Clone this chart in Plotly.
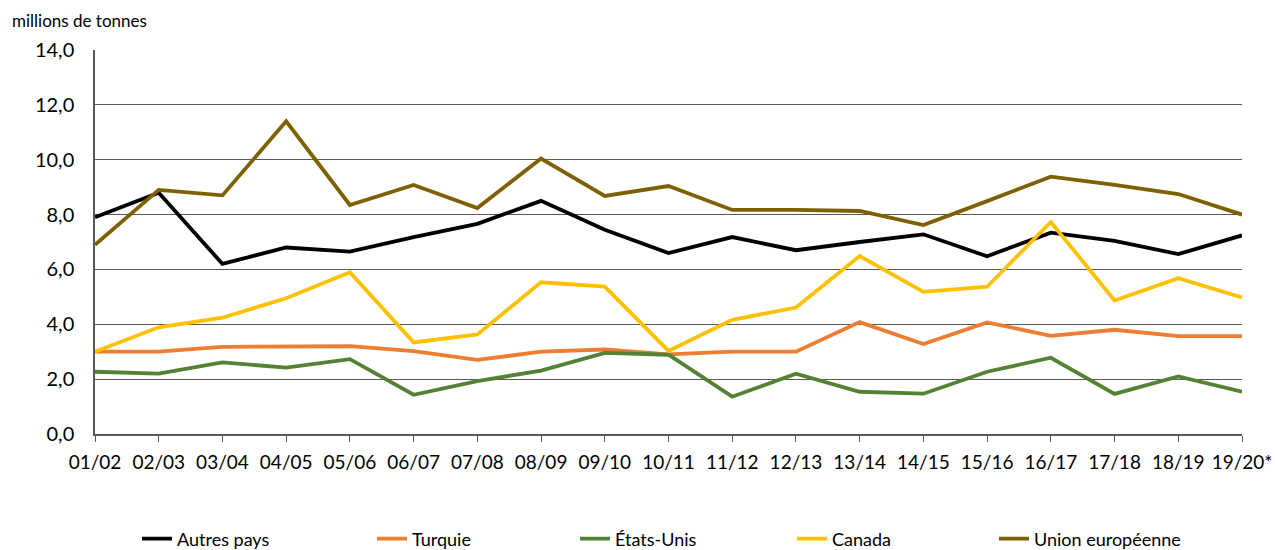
import plotly.graph_objects as go

categories = ["01/02", "02/03", "03/04", "04/05", "05/06", "06/07", "07/08", "08/09", "09/10", "10/11",
              "11/12", "12/13", "13/14", "14/15", "15/16", "16/17", "17/18", "18/19", "19/20*"]

autres_pays = [7.9, 8.8, 6.2, 6.8, 6.65, 7.18, 7.66, 8.5, 7.45, 6.6, 7.18, 6.7, 7.0, 7.28, 6.48, 7.34, 7.04, 6.56, 7.24]
turquie = [3.0, 3.0, 3.18, 3.2, 3.2, 3.02, 2.7, 3.0, 3.08, 2.9, 3.0, 3.0, 4.08, 3.28, 4.07, 3.58, 3.8, 3.57, 3.57]
etats_unis = [2.27, 2.2, 2.61, 2.42, 2.73, 1.43, 1.93, 2.31, 2.96, 2.89, 1.36, 2.2, 1.54, 1.47, 2.27, 2.78, 1.46, 2.1, 1.54]
canada = [3.0, 3.89, 4.24, 4.95, 5.9, 3.34, 3.63, 5.53, 5.37, 3.03, 4.16, 4.61, 6.49, 5.18, 5.37, 7.73, 4.87, 5.68, 4.98]
union_europeenne = [6.9, 8.9, 8.7, 11.4, 8.35, 9.08, 8.24, 10.04, 8.68, 9.04, 8.17, 8.17, 8.13, 7.62, 8.49, 9.38, 9.08, 8.75, 8.0]

series = [
    ("Autres pays", autres_pays, "#000000"),
    ("Turquie", turquie, "#ED7D31"),
    ("États-Unis", etats_unis, "#548235"),
    ("Canada", canada, "#FFC000"),
    ("Union européenne", union_europeenne, "#7F6000"),
]

W, H = 1275, 550
FONT = "Lato"
legend_text_x = [177, 412, 615, 832, 1034]  # px of legend text starts

fig = go.Figure()
legend_names = ["legend", "legend2", "legend3", "legend4", "legend5"]
for (name, vals, color), lg in zip(series, legend_names):
    fig.add_trace(go.Scatter(x=categories, y=vals, mode="lines", name=name,
                             line=dict(color=color, width=3.8), legend=lg))

layout_legends = {}
for lg, tx in zip(legend_names, legend_text_x):
    layout_legends[lg] = dict(xref="container", yref="container",
                              x=(tx - 40) / W, y=1 - 539 / H,
                              xanchor="left", yanchor="middle",
                              orientation="h", bgcolor="rgba(0,0,0,0)",
                              font=dict(family=FONT, size=18, color="#000000"))

L, T = 95, 50
PW, PH = 1147, 384
fig.update_layout(
    width=W, height=H,
    margin=dict(l=L, r=W - L - PW, t=T, b=H - T - PH, autoexpand=False),
    paper_bgcolor="white", plot_bgcolor="white",
    separators=", ",
    font=dict(family=FONT, size=18, color="#000000"),
    showlegend=True,
    xaxis=dict(type="category", range=[0, len(categories) - 1], automargin=False,
               showgrid=False, showline=True, linecolor="#595959", linewidth=1.5,
               ticks="outside", ticklen=6, tickcolor="#595959", tickwidth=1.2,
               ticklabelstandoff=4,
               tickfont=dict(family=FONT, size=19, color="#000000")),
    yaxis=dict(range=[0, 14], dtick=2, tickformat=".1f", automargin=False,
               showgrid=True, gridcolor="#595959", gridwidth=1.2,
               showline=True, linecolor="#595959", linewidth=1.5,
               zeroline=False, ticks="", ticklabelstandoff=15,
               tickfont=dict(family=FONT, size=20, color="#000000")),
    annotations=[dict(text="millions de tonnes", xref="paper", yref="paper",
                      x=(10 - 95) / PW, y=(434 - 20) / PH,
                      xanchor="left", yanchor="middle", showarrow=False,
                      font=dict(family=FONT, size=17, color="#000000"))],
    **layout_legends,
)

fig.write_html("out.html", config={"displayModeBar": False},
               post_script="document.body.style.margin='0px';document.body.style.overflow='hidden';")
